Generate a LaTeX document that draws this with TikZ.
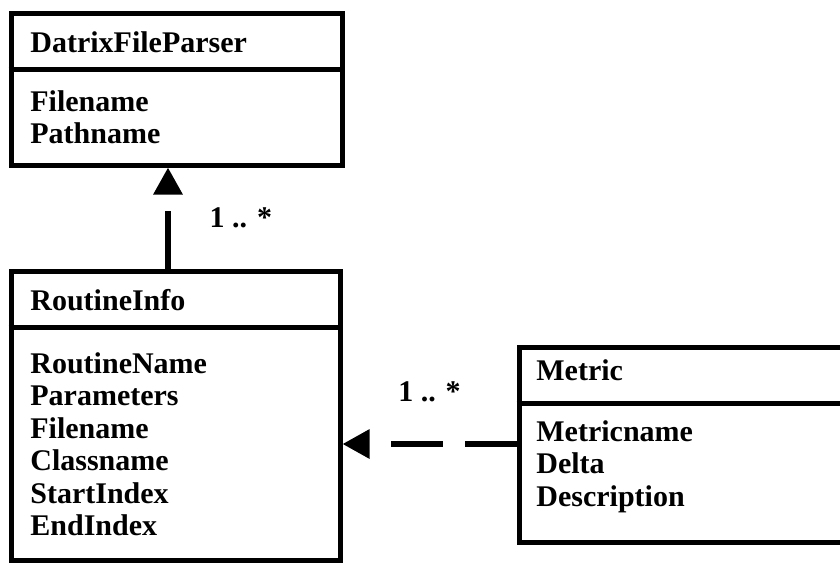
\documentclass[tikz,border=0pt]{standalone}
\usepackage{fontspec}
\setmainfont{Liberation Serif}
\usepackage{tikz}
\usetikzlibrary{arrows.meta}
\usetikzlibrary{fit}
\usetikzlibrary{positioning}

\begin{document}
\begin{tikzpicture}[x=0.5pt, y=-0.5pt,
        classbox/.style={draw, line width=2.5pt, inner sep=0pt},
        divider/.style={line width=2.5pt},
        title/.style={anchor=base west, inner sep=0pt, font=\fontsize{15}{16.25}\selectfont\bfseries},
        attrs/.style={anchor=north west, inner sep=0pt, align=left, font=\fontsize{15}{16.25}\selectfont\bfseries},
        assoc/.style={line width=3pt, -{Triangle[length=13.5pt, width=14pt]}},
        mult/.style={font=\fontsize{15}{16}\selectfont\bfseries}]
            \clip (0,0) rectangle (840,563);

            \node[classbox, fit={(11,13) (342,165)}] (parser) {};
            \node[classbox, fit={(11,271) (340,560)}] (routine) {};
            \node[classbox, fit={(519,347) (850,542)}] (metric) {};

            \draw[divider] (parser.west |- 0,69) -- (parser.east |- 0,69);
            \draw[divider] (routine.west |- 0,327) -- (routine.east |- 0,327);
            \draw[divider] (metric.west |- 0,403) -- (metric.east |- 0,403);

            \node[title] (parsername) at (30,52) {DatrixFileParser};
            \node[attrs] (parserattrs) at (30,90) {Filename\\Pathname};

            \node[title] (routinename) at (30,310) {RoutineInfo};
            \node[attrs] (routineattrs) at (30,352)
                {RoutineName\\Parameters\\Filename\\Classname\\StartIndex\\EndIndex};

            \node[title] (metricname) at (536,380) {Metric};
            \node[attrs] (metricattrs) at (536,420) {Metricname\\Delta\\Description};

            \coordinate (up) at (168,0);
            \draw[assoc, dash pattern=on 29pt off 9pt]
                (up |- routine.north) -- node[mult, right=16pt] {1 .. *} (up |- parser.south);
            \draw[assoc, dash pattern=on 26pt off 11pt]
                (metric.west |- 0,444) -- node[mult, above=16pt] {1 .. *} (routine.east |- 0,444);
        \end{tikzpicture}
\end{document}
